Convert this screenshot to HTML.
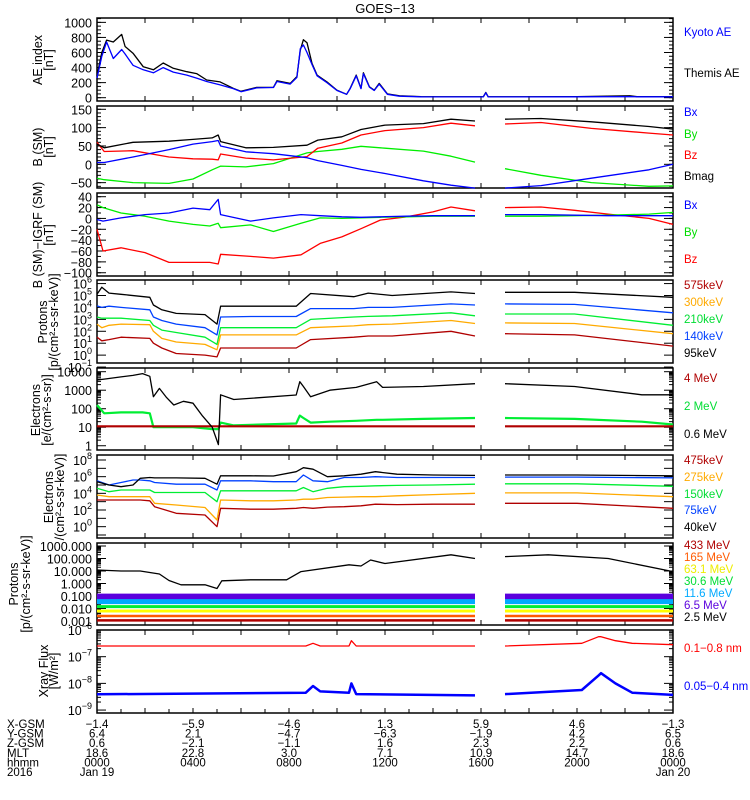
<!DOCTYPE html>
<html><head><meta charset="utf-8"><title>GOES-13</title>
<style>
html,body{margin:0;padding:0;background:#fff;}
svg{display:block;font-family:"Liberation Sans",sans-serif;}
</style></head>
<body>
<svg id="chart" width="750" height="800" viewBox="0 0 750 800" xmlns="http://www.w3.org/2000/svg">
<rect x="0" y="0" width="750" height="800" fill="#fff"/>
<text x="385" y="13" font-size="13" text-anchor="middle">GOES−13</text>
</svg>
<script>
// ---------- data (hours since 0000 UT Jan 19; null = data gap) ----------
const aeT = [0,0.2,0.4,0.68,1.03,1.17,1.5,1.93,2.35,2.76,3.18,3.74,4.15,4.57,5.13,5.68,6.0,6.65,7.35,7.5,8.05,8.33,8.47,8.6,8.75,8.96,9.17,9.58,10.0,10.4,10.55,10.8,11.0,11.1,11.35,11.55,11.76,12.1,12.6,13.5,15,16.1,16.2,16.3,18,20,22.2,22.5,24];
const aeThemis = [290,600,765,740,840,680,590,410,370,460,390,345,320,235,210,125,85,137,137,225,190,280,630,770,730,455,300,210,100,45,125,300,125,330,145,100,190,50,25,15,12,15,70,12,12,15,25,15,15];
const aeKyoto = [260,550,740,520,640,580,430,370,330,400,340,300,260,215,170,120,80,130,135,215,180,270,650,700,600,440,290,200,95,45,120,290,120,320,140,95,180,45,20,12,10,12,65,10,10,12,15,12,12];

const bT = [0,0.3,1.5,3,4,4.8,5.05,5.15,6.2,7.35,8.75,9.2,10.2,11.0,12,13.6,14.75,15.75,16.3,17,18.5,20.6,23,24];
const bMag = [55,45,60,63,68,72,80,62,45,46,52,66,75,95,107,111,123,118,null,123,125,116,103,96];
const bZ = [60,35,37,20,15,14,12,28,17,12,21,44,58,80,92,100,112,105,null,110,114,98,85,80];
const bX = [5,5,20,40,55,62,65,50,34,29,18,10,-3,-14,-25,-45,-57,-65,null,-65,-58,-38,-15,0];
const bY = [-38,-42,-50,-52,-40,-15,-8,-5,-7,2,31,35,41,49,44,36,22,6,null,-12,-30,-50,-60,-59];

const dT = [0,0.25,1,2,3,4,4.7,5.05,5.15,6.4,7.35,8.5,9.3,10.2,11.0,11.8,12.9,14,14.75,15.75,16.3,17,18.5,19.9,21.3,23,24];
const dZ = [-20,-60,-54,-63,-81,-81,-81,-84,-66,-70,-73,-67,-46,-34,-19,-3,3,12,21,14,null,20,21,15,8,0,-11];
const dX = [-2,-5,1,7,10,19,16,35,7,-5,1,7,5,3,2,3,4,5,5,5,null,7,7,6,5,5,5];
const dY = [25,20,10,4,-5,-11,-14,-9,-17,-12,-24,-9,1,0,1,2,3,4,4,4,null,4,4,5,6,8,11];

// log10 values
const pT = [0,0.2,0.5,1,2.2,2.35,2.7,3.3,4.5,5.0,5.15,6.4,8.3,8.9,10.7,11.3,12.3,14.75,15.75,16.3,17,19.9,24];
const p95 = [5.1,5.7,5.2,5.1,4.85,4.2,3.8,3.5,3.4,2.6,4.1,4.1,4.1,5.17,4.9,5.2,5.0,5.3,5.17,null,5.27,5.27,4.85];
const p140 = [4.13,4.0,4.1,4.0,3.8,3.2,2.9,2.6,2.3,1.7,3.2,3.24,3.24,3.9,3.9,4.0,4.0,4.3,4.2,null,4.3,4.25,3.55];
const p210 = [3.2,3.1,3.1,3.1,2.9,2.5,2.1,1.9,1.5,0.9,2.3,2.3,2.3,3.0,3.2,3.25,3.3,3.55,3.3,null,3.45,3.45,2.5];
const p300 = [2.6,2.3,2.5,2.6,2.55,2.0,1.4,1.1,0.9,0.45,1.7,1.7,1.7,2.3,2.45,2.55,2.6,2.9,2.65,null,2.7,2.65,1.8];
const p575 = [1.5,1.2,1.3,1.5,1.4,1.0,0.6,0.14,0.0,-0.15,0.6,0.6,0.6,1.3,1.5,1.6,1.6,2.0,1.6,null,1.8,1.7,0.76];

const eT = [0,0.3,1,1.5,1.9,2.2,2.35,2.6,2.9,3.2,3.6,4.0,4.4,4.8,5.06,5.15,5.7,8.3,8.45,8.6,8.9,9.7,10.8,11.65,11.9,13.6,15.75,16.3,17,19.9,22.7,24];
const e06 = [3.55,3.6,3.72,3.8,3.9,3.75,2.65,3.1,2.6,2.2,2.4,2.3,1.6,1.0,0.06,2.75,2.5,2.74,3.46,3.2,2.65,3.0,3.15,3.46,3.15,3.2,3.35,null,3.35,3.2,2.75,2.75];
const e2 = [2.2,1.75,1.8,1.8,1.8,1.75,1.0,1.0,1.0,1.0,1.0,1.0,0.95,0.9,0.9,1.25,1.1,1.2,1.63,1.5,1.25,1.3,1.35,1.4,1.4,1.45,1.5,null,1.5,1.45,1.3,1.15];
const e4 = [1.05,1.05,1.05,1.05,1.05,1.05,1.05,1.05,1.05,1.05,1.05,1.05,1.05,1.05,1.05,1.05,1.05,1.05,1.05,1.05,1.05,1.05,1.05,1.05,1.05,1.05,1.05,null,1.05,1.05,1.05,1.05];

const kT = [0,0.5,1,1.5,1.8,2.2,2.4,3.3,4.5,5.0,5.15,6.4,7.35,8.3,8.6,9.0,9.6,10.3,11.0,11.6,12.5,14,15.75,16.3,17,20,24];
const k40 = [5.4,5.0,4.8,5.0,5.8,5.9,5.85,5.85,5.8,5.1,6.1,6.1,6.08,6.6,7.08,6.9,6.0,6.1,6.3,6.6,6.3,6.2,6.15,null,6.2,6.2,6.1];
const k75 = [5.5,5.0,5.3,5.6,5.6,5.5,5.3,5.1,5.1,4.4,5.5,5.5,5.4,5.4,6.2,5.5,5.4,5.9,5.9,6.0,5.9,5.9,5.9,null,5.95,5.95,5.85];
const k150 = [4.6,4.2,4.4,4.4,4.4,4.4,4.1,4.1,4.1,3.0,4.3,4.3,4.3,4.3,4.7,4.2,4.6,4.8,4.85,4.9,4.95,5.0,5.1,null,5.15,5.15,4.85];
const k275 = [3.8,3.6,3.6,3.6,3.6,3.6,2.8,2.6,2.3,0.8,3.2,3.1,3.1,3.2,3.3,3.3,3.5,3.55,3.6,3.6,3.7,3.85,4.0,null,4.05,4.05,3.6];
const k475 = [3.2,3.2,3.2,3.2,3.2,3.1,2.4,1.6,1.4,0.0,2.2,2.1,2.1,2.2,2.3,2.2,2.35,2.4,2.5,2.7,2.65,2.7,2.7,null,2.8,2.8,2.2];

const hT = [0,1,1.8,2.6,3.0,3.5,4.5,5.0,5.2,6.4,7.9,8.5,10.5,11.0,11.4,12.0,14.75,15.75,16.3,17,18.8,21.3,24];
const h25 = [1.08,1.0,1.0,0.76,0.24,-0.1,-0.1,-0.4,0.22,0.3,0.3,0.95,1.5,1.4,1.88,1.6,2.3,2.0,null,2.15,2.3,2.0,0.95];
const bandT = [0,15.75,16.3,17,24];
const h65 = [-1.05,-1.05,null,-1.05,-1.05];
const h116 = [-1.45,-1.45,null,-1.45,-1.45];
const h306 = [-1.85,-1.85,null,-1.85,-1.85];
const h631 = [-2.2,-2.2,null,-2.2,-2.2];
const h165 = [-2.6,-2.6,null,-2.6,-2.6];
const h433 = [-2.95,-2.95,null,-2.95,-2.95];

const xT = [0,8.7,9.0,9.3,10.5,10.6,10.8,15.75,16.3,17,20.2,20.9,21.0,21.6,22.3,24];
const xLong = [-6.6,-6.6,-6.5,-6.6,-6.6,-6.4,-6.6,-6.6,null,-6.6,-6.5,-6.25,-6.25,-6.4,-6.5,-6.55];
const xShort = [-8.41,-8.35,-8.1,-8.3,-8.35,-8.0,-8.4,-8.45,null,-8.4,-8.25,-7.7,-7.62,-8.0,-8.35,-8.43];

const hourTicks = [0,4,8,12,16,20,24];
const xGsm = ['−1.4','−5.9','−4.6','1.3','5.9','4.6','−1.3'];
const yGsm = ['6.4','2.1','−4.7','−6.3','−1.9','4.2','6.5'];
const zGsm = ['0.6','−2.1','−1.1','1.6','2.3','2.2','0.6'];
const mlt = ['18.6','22.8','3.0','7.1','10.9','14.7','18.6'];
const hhmm = ['0000','0400','0800','1200','1600','2000','0000'];

// ---------- drawing ----------
const svg = document.getElementById('chart');
const NS = 'http://www.w3.org/2000/svg';
const X0 = 97, X1 = 673;
function X(t){ return X0 + (X1 - X0) * t / 24; }
function mk(tag, parent){ const e = document.createElementNS(NS, tag); (parent || svg).appendChild(e); return e; }
function yScale(p){ return v => p.top + (p.hi - v) / (p.hi - p.lo) * (p.bot - p.top); }

const panels = [
 {name:'ae-panel', top:18, bot:101, lo:-44, hi:1058},
 {name:'bsm-panel', top:106, bot:188, lo:-64.6, hi:159},
 {name:'bsm-igrf-panel', top:193, bot:276, lo:-106, hi:46.8},
 {name:'proton-kev-panel', top:280, bot:363, lo:-0.66, hi:6.3},
 {name:'electron-mev-panel', top:368, bot:450, lo:-0.23, hi:4.2},
 {name:'electron-kev-panel', top:455, bot:538, lo:-1.36, hi:8.6},
 {name:'proton-mev-panel', top:543, bot:625, lo:-3.32, hi:3.24},
 {name:'xray-panel', top:630, bot:713, lo:-9.11, hi:-6}
];

function line(p, T, V, color, name, w){
  const y = yScale(p);
  let d = '', pen = false;
  for (let i = 0; i < T.length; i++){
    if (V[i] === null){ pen = false; continue; }
    d += (pen ? 'L' : 'M') + X(T[i]).toFixed(1) + ' ' + y(V[i]).toFixed(1) + ' ';
    pen = true;
  }
  const e = mk('path');
  e.setAttribute('d', d);
  e.setAttribute('fill', 'none');
  e.setAttribute('stroke', color);
  e.setAttribute('stroke-width', w || 1.3);
  e.setAttribute('stroke-linejoin', 'round');
  
  
}

function tick(x1, y1, x2, y2, name){
  const e = mk('line');
  e.setAttribute('x1', x1); e.setAttribute('y1', y1); e.setAttribute('x2', x2); e.setAttribute('y2', y2);
  e.setAttribute('stroke', '#000'); e.setAttribute('stroke-width', 1);
  
  
}

function txt(x, y, s, opts){
  const e = mk('text');
  e.setAttribute('x', x); e.setAttribute('y', y);
  e.setAttribute('font-size', (opts && opts.size) || 12.5);
  e.setAttribute('text-anchor', (opts && opts.anchor) || 'start');
  e.setAttribute('fill', (opts && opts.color) || '#000');
  if (opts && opts.rot) e.setAttribute('transform', 'rotate(-90 ' + x + ' ' + y + ')');
  if (opts && opts.exp !== undefined){
    e.textContent = s;
    const sp = mk('tspan', e);
    sp.setAttribute('font-size', 9);
    sp.setAttribute('dy', -6);
    sp.textContent = opts.exp;
  } else e.textContent = s;
  return e;
}

function frame(p){
  const r = mk('rect');
  r.setAttribute('x', X0); r.setAttribute('y', p.top);
  r.setAttribute('width', X1 - X0); r.setAttribute('height', p.bot - p.top);
  r.setAttribute('fill', 'none'); r.setAttribute('stroke', '#000'); r.setAttribute('stroke-width', 1.5);
  
  
  for (let h = 2; h < 24; h += 2){
    tick(X(h), p.top, X(h), p.top + 5, 'x-tick');
    tick(X(h), p.bot, X(h), p.bot - 5, 'x-tick');
  }
}

function yTicks(p, majors, minors, labelFn){
  const y = yScale(p);
  minors.forEach(v => { const yy = y(v); if (yy < p.top || yy > p.bot) return;
    tick(X0, yy, X0 + 4, yy, 'y-minor-tick'); tick(X1, yy, X1 - 4, yy, 'y-minor-tick'); });
  majors.forEach(v => { const yy = y(v);
    tick(X0, yy, X0 + 9, yy, 'y-major-tick'); tick(X1, yy, X1 - 9, yy, 'y-major-tick');
    const lab = labelFn(v);
    if (lab){
      const t = txt(92, yy + 5, lab[0], {anchor:'end', exp: lab[1]});
      
      
    }
  });
}
function range(a, b, s){ const r = []; for (let v = a; v <= b + 1e-9; v += s) r.push(+v.toFixed(6)); return r; }
function logMinors(a, b){ const r = []; for (let d = a; d < b; d++) for (let k = 2; k <= 9; k++) r.push(d + Math.log10(k)); return r; }
const minus = v => String(v).replace('-', '−');

panels.forEach(frame);
yTicks(panels[0], range(0,1000,200), range(0,1050,50), v => [String(v)]);
yTicks(panels[1], range(-50,150,50), range(-60,150,10), v => [minus(v)]);
yTicks(panels[2], range(-100,40,20), range(-100,40,10), v => [minus(v)]);
yTicks(panels[3], range(-1,6,1), [], v => ['10', minus(v)]);
yTicks(panels[4], range(0,4,1), logMinors(0,4), v => [String(Math.pow(10, v))]);
yTicks(panels[5], range(-1,8,1), [], v => (v % 2 === 0 ? ['10', String(v)] : null));
yTicks(panels[6], range(-3,3,1), logMinors(-3,3), v => [Math.pow(10, v).toFixed(3)]);
yTicks(panels[7], range(-9,-6,1), logMinors(-9,-6), v => ['10', minus(v)]);
for (let h = 1; h < 24; h++) tick(X(h), 713, X(h), 709, 'x-minor-tick');

// series
line(panels[0], aeT, aeThemis, '#000', 'themis-ae-line');
line(panels[0], aeT, aeKyoto, '#0000ff', 'kyoto-ae-line');
line(panels[1], bT, bY, '#00ee00', 'by-line');
line(panels[1], bT, bZ, '#ff0000', 'bz-line');
line(panels[1], bT, bX, '#0000ff', 'bx-line');
line(panels[1], bT, bMag, '#000', 'bmag-line');
line(panels[2], dT, dZ, '#ff0000', 'dbz-line');
line(panels[2], dT, dY, '#00ee00', 'dby-line');
line(panels[2], dT, dX, '#0000ff', 'dbx-line');
line(panels[3], pT, p95, '#000', 'proton-95kev-line');
line(panels[3], pT, p140, '#0040ff', 'proton-140kev-line');
line(panels[3], pT, p210, '#00ee33', 'proton-210kev-line');
line(panels[3], pT, p300, '#ffaa00', 'proton-300kev-line');
line(panels[3], pT, p575, '#b00000', 'proton-575kev-line');
line(panels[4], eT, e2, '#00ee33', 'electron-2mev-line', 2.2);
line(panels[4], eT, e4, '#b00000', 'electron-4mev-line', 2.2);
line(panels[4], eT, e06, '#000', 'electron-06mev-line');
line(panels[5], kT, k475, '#b00000', 'electron-475kev-line');
line(panels[5], kT, k275, '#ffaa00', 'electron-275kev-line');
line(panels[5], kT, k150, '#00ee33', 'electron-150kev-line');
line(panels[5], kT, k75, '#0040ff', 'electron-75kev-line');
line(panels[5], kT, k40, '#000', 'electron-40kev-line');
line(panels[6], bandT, h65, '#5a00dd', 'proton-6.5mev-band', 6);
line(panels[6], bandT, h116, '#00aaff', 'proton-11.6mev-band', 5);
line(panels[6], bandT, h306, '#00ee33', 'proton-30.6mev-band', 3);
line(panels[6], bandT, h631, '#ffff00', 'proton-63.1mev-band', 3);
line(panels[6], bandT, h165, '#ff5a00', 'proton-165mev-band', 2.5);
line(panels[6], bandT, h433, '#b00000', 'proton-433mev-band', 2.5);
line(panels[6], hT, h25, '#000', 'proton-2.5mev-line');
line(panels[7], xT, xLong, '#ff0000', 'xray-long-line');
line(panels[7], xT, xShort, '#0000ff', 'xray-short-line', 2.5);

// y-axis titles
const titles = [
 [42, 60, 'AE index'], [53, 60, '[nT]'],
 [42, 147, 'B (SM)'], [53, 147, '[nT]'],
 [42, 235, 'B (SM)−IGRF (SM)'], [53, 235, '[nT]'],
 [47, 322, 'Protons'], [58, 322, '[p/(cm²-s-sr-keV)]'],
 [40, 410, 'Electrons'], [51, 410, '[e/(cm²-s-sr)]'],
 [53, 497, 'Electrons'], [64, 497, '/(cm²-s-sr-keV)]'],
 [18, 584, 'Protons'], [30, 584, '[p/(cm²-s-sr-keV)]'],
 [48, 671, 'Xray Flux'], [58, 671, '[W/m²]']
];
titles.forEach(a => {
  const t = txt(a[0], a[1], a[2], {anchor:'middle', rot:true, size:12.5});
  
  
});

// legends
const legend = [
 [36,'Kyoto AE','#0000ff'],[77,'Themis AE','#000'],
 [116,'Bx','#0000ff'],[138,'By','#00dd00'],[159,'Bz','#ff0000'],[180,'Bmag','#000'],
 [209,'Bx','#0000ff'],[236,'By','#00dd00'],[263,'Bz','#ff0000'],
 [289,'575keV','#b00000'],[306,'300keV','#ffaa00'],[323,'210keV','#00dd33'],[340,'140keV','#0040ff'],[357,'95keV','#000'],
 [382,'4 MeV','#b00000'],[410,'2 MeV','#00dd33'],[438,'0.6 MeV','#000'],
 [464,'475keV','#b00000'],[481,'275keV','#ffaa00'],[498,'150keV','#00dd33'],[514,'75keV','#0040ff'],[531,'40keV','#000'],
 [549,'433 MeV','#b00000'],[561,'165 MeV','#ff5a00'],[573,'63.1 MeV','#eeee00'],[585,'30.6 MeV','#00dd33'],[597,'11.6 MeV','#00aaff'],[609,'6.5 MeV','#5a00dd'],[621,'2.5 MeV','#000'],
 [652,'0.1−0.8 nm','#ff0000'],[690,'0.05−0.4 nm','#0000ff']
];
legend.forEach(a => {
  const t = txt(684, a[0], a[1], {color:a[2], size:11.5});
  
  
});

// bottom annotations
const rows = [['X-GSM', xGsm],['Y-GSM', yGsm],['Z-GSM', zGsm],['MLT', mlt],['hhmm', hhmm]];
rows.forEach((r, i) => {
  const yy = 728 + i * 9.6;
  const l = txt(7, yy, r[0], {size:11.5});
  
  
  hourTicks.forEach((h, j) => {
    const v = txt(X(h), yy, r[1][j], {anchor:'middle', size:11.5});
    
    
  });
});
const yr = txt(7, 776, '2016', {size:11.5});


const d1 = txt(X(0), 776, 'Jan 19', {anchor:'middle', size:11.5});


const d2 = txt(X(24), 776, 'Jan 20', {anchor:'middle', size:11.5});


</script>
</body></html>
